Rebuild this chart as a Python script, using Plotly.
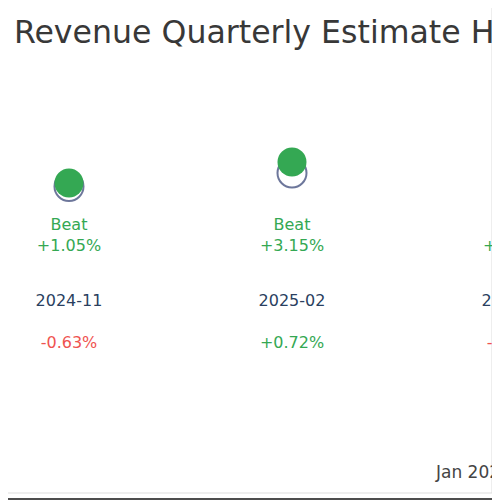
import plotly.graph_objects as go

# ---- data ----
company = "Costco"
periods = ["2024-11", "2025-02", "2025-05"]
actual_revenue = [62.15, 66.00, 64.10]      # actual (green) markers
estimate_revenue = [61.50, 63.99, 63.35]    # consensus estimate (hollow) markers
surprise_pct = [1.05, 3.15, 1.18]
price_move_pct = [-0.63, 0.72, -0.85]
results = ["Beat", "Beat", "Beat"]
footer_label = "Jan 2025"

GREEN = "#34a853"
RED = "#ef5350"
NAVY = "#2a3f5f"
FONT = "DejaVu Sans"

idx = list(range(len(periods)))

def fmt(v):
    return ("+" if v >= 0 else "") + f"{v:.2f}%"

fig = go.Figure()

# estimate markers (hollow rings)
fig.add_trace(go.Scatter(
    x=idx, y=estimate_revenue, mode="markers",
    marker=dict(size=29, color="white", line=dict(color="#3d4a7a", width=2), opacity=0.75),
    showlegend=False, hoverinfo="skip"))

# actual markers
fig.add_trace(go.Scatter(
    x=idx, y=actual_revenue, mode="markers",
    marker=dict(size=29, color=GREEN, line=dict(width=0)),
    showlegend=False, hoverinfo="skip"))

# label rows on a fixed helper axis
surprise_text = [f"{r}<br>{fmt(s)}" for r, s in zip(results, surprise_pct)]
fig.add_trace(go.Scatter(
    x=idx, y=[0.543] * len(idx), yaxis="y2", mode="text",
    text=surprise_text,
    textfont=dict(family=FONT, size=16, color=[GREEN if s >= 0 else RED for s in surprise_pct]),
    showlegend=False, hoverinfo="skip"))
fig.add_trace(go.Scatter(
    x=idx, y=[0.412] * len(idx), yaxis="y2", mode="text",
    text=periods,
    textfont=dict(family=FONT, size=16, color=NAVY),
    showlegend=False, hoverinfo="skip"))
fig.add_trace(go.Scatter(
    x=idx, y=[0.328] * len(idx), yaxis="y2", mode="text",
    text=[fmt(v) for v in price_move_pct],
    textfont=dict(family=FONT, size=16, color=[GREEN if v >= 0 else RED for v in price_move_pct]),
    showlegend=False, hoverinfo="skip"))

fig.update_layout(
    width=500, height=500,
    margin=dict(l=0, r=0, t=0, b=0),
    paper_bgcolor="white", plot_bgcolor="white",
    font=dict(family=FONT),
    title=dict(text=f"{company} Revenue Quarterly Estimate History",
               x=0.464, xanchor="center", y=0.952, yanchor="middle",
               font=dict(family=FONT, size=31.6, color="#383838")),
    xaxis=dict(range=[-0.2735, 1.9686], visible=False, showgrid=False, zeroline=False),
    yaxis=dict(range=[2.57, 94.23], visible=False, showgrid=False, zeroline=False),
    yaxis2=dict(range=[0, 1], overlaying="y", visible=False),
    annotations=[dict(text=footer_label, xref="paper", yref="paper", x=0.85, y=0.072,
                      xanchor="left", yanchor="middle", showarrow=False,
                      font=dict(family=FONT, size=17, color="#444444"))],
    shapes=[
        dict(type="rect", xref="paper", yref="paper", x0=-0.02, x1=0.968, y0=0.03, y1=1.05,
             line=dict(color="#dddddd", width=1), layer="below"),
        dict(type="line", xref="paper", yref="paper", x0=0.975, x1=0.975, y0=0.016, y1=1.05,
             line=dict(color="#4d4d4d", width=3)),
        dict(type="line", xref="paper", yref="paper", x0=-0.02, x1=0.976, y0=0.018, y1=0.018,
             line=dict(color="#4d4d4d", width=2)),
    ],
)

fig.write_html("out.html")
